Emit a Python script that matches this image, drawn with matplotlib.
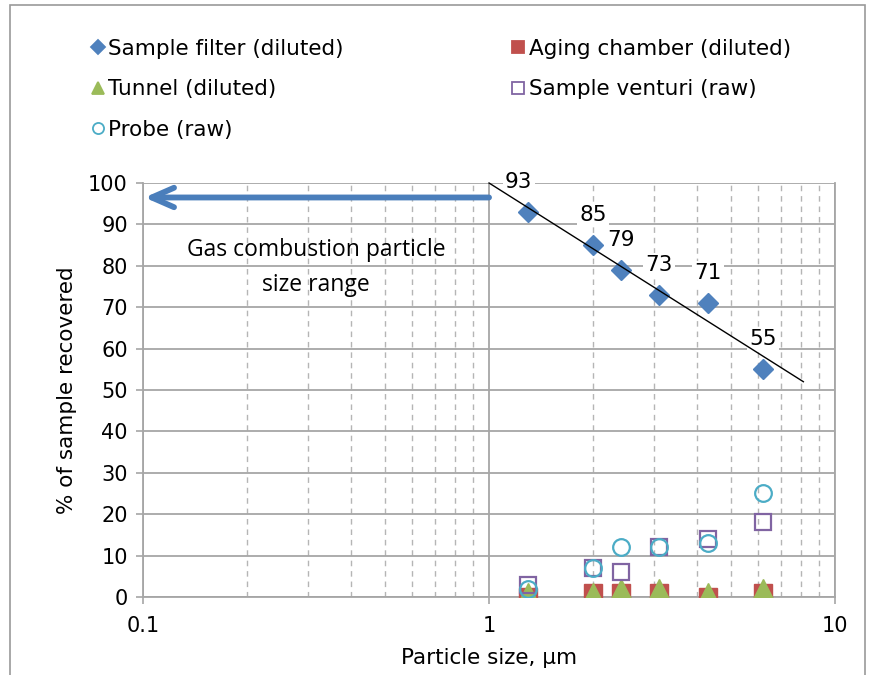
import numpy as np
import matplotlib.pyplot as plt
from matplotlib.lines import Line2D
from matplotlib.patches import Rectangle

# --- Data ---
particle_size = [1.3, 2.0, 2.4, 3.1, 4.3, 6.2]

sample_filter = [93, 85, 79, 73, 71, 55]
aging_chamber = [0, 1, 1, 1, 0, 1]
tunnel = [1, 1, 2, 2, 1, 2]
sample_venturi = [3, 7, 6, 12, 14, 18]
probe = [2, 7, 12, 12, 13, 25]

# hand-drawn trend line and range arrow
trend_x = [1.0, 8.1]
trend_y = [100, 52]
arrow_from = (1.0, 96.5)
arrow_to = (0.101, 96.5)

# --- Styling ---
blue = "#4F81BD"
red = "#C0504D"
green = "#9BBB59"
purple = "#8064A2"
teal = "#4BACC6"
grid_gray = "#A6A6A6"
fs = 15.5

plt.rcParams["font.family"] = "DejaVu Sans"

fig = plt.figure(figsize=(8.69, 6.75), dpi=100)
ax = fig.add_axes([0.1646, 0.1156, 0.7963, 0.6133])

# outer chart border
fig.patches.append(Rectangle((10 / 869, -0.02), 855 / 869, 1 - 5 / 675 + 0.02,
                             transform=fig.transFigure, fill=False,
                             edgecolor="#9A9A9A", linewidth=1.2))

ax.set_xscale("log")
ax.set_xlim(0.1, 10)
ax.set_ylim(0, 100)

# gridlines
ax.set_yticks(np.arange(0, 101, 10))
ax.yaxis.grid(True, color=grid_gray, linewidth=1.3, zorder=0)
ax.xaxis.grid(True, which="major", color=grid_gray, linewidth=1.3, zorder=0)
ax.xaxis.grid(True, which="minor", color="#B5B5B5", linewidth=1.0,
              linestyle=(0, (4, 3.5)), zorder=0)
ax.set_axisbelow(True)

ax.set_xticks([0.1, 1, 10])
ax.set_xticklabels(["0.1", "1", "10"])
ax.tick_params(axis="x", which="minor", length=0)
ax.tick_params(axis="both", which="major", length=5, color=grid_gray,
               labelsize=15, width=1.2)
ax.tick_params(axis="x", pad=9)
ax.tick_params(axis="y", pad=6)

ax.spines["top"].set_visible(False)
for side in ["left", "bottom", "right"]:
    ax.spines[side].set_color(grid_gray)
    ax.spines[side].set_linewidth(1.3)

# --- Series ---
ms = 12
ax.plot(particle_size, aging_chamber, "s", color=red, markersize=ms + 1, zorder=3,
        label="Aging chamber (diluted)")
ax.plot(particle_size, tunnel, "^", color=green, markersize=ms + 2, zorder=4,
        label="Tunnel (diluted)")
ax.plot(particle_size, sample_venturi, "s", markerfacecolor="none",
        markeredgecolor=purple, markeredgewidth=1.6, markersize=ms, zorder=5,
        label="Sample venturi (raw)")
ax.plot(particle_size, probe, "o", markerfacecolor="none",
        markeredgecolor=teal, markeredgewidth=1.6, markersize=ms, zorder=6,
        label="Probe (raw)")
ax.plot(particle_size, sample_filter, "D", color=blue, markersize=10.5, zorder=7,
        label="Sample filter (diluted)")

# data labels for sample filter
for i, (x, y) in enumerate(zip(particle_size, sample_filter)):
    dx = -7 if i == 0 else 0
    ax.annotate(str(y), (x, y), xytext=(dx, 21.5), textcoords="offset points",
                ha="center", va="center", fontsize=fs, zorder=8,
                bbox=dict(boxstyle="square,pad=0.1", facecolor="white",
                          edgecolor="none"))

# trend line
ax.plot(trend_x, trend_y, color="black", linewidth=1.0, zorder=9,
        clip_on=False)

# range arrow
ax.annotate("", xy=arrow_to, xytext=arrow_from,
            arrowprops=dict(arrowstyle="->,head_length=1.6,head_width=0.7",
                            color="#4A7EBB", linewidth=4.2,
                            shrinkA=0, shrinkB=0),
            zorder=9)
ax.text(0.316, 79.5, "Gas combustion particle\nsize range", ha="center",
        va="center", fontsize=16.5, family="Open Sans", linespacing=1.6,
        zorder=9)

ax.set_xlabel("Particle size, µm", fontsize=fs, labelpad=8)
ax.set_ylabel("% of sample recovered", fontsize=fs, labelpad=8)

# --- Legend (two columns above the plot) ---
h = {l.get_label(): l for l in ax.get_lines() if not l.get_label().startswith("_")}
order = ["Sample filter (diluted)", "Tunnel (diluted)", "Probe (raw)",
         "Aging chamber (diluted)", "Sample venturi (raw)"]
handles = []
for name in order:
    src = h[name]
    handles.append(Line2D([], [], linestyle="none", marker=src.get_marker(),
                          markerfacecolor=src.get_markerfacecolor(),
                          markeredgecolor=src.get_markeredgecolor(),
                          markeredgewidth=1.3,
                          markersize=8 if src.get_marker() != "D" else 7))
fig.legend(handles, order, ncol=2, loc="upper left",
           bbox_to_anchor=(0.095, 0.955), frameon=False, fontsize=fs,
           handlelength=0.6, handletextpad=0.2, labelspacing=0.95,
           columnspacing=7.8, borderaxespad=0)

fig.savefig("out.png", dpi=100)
